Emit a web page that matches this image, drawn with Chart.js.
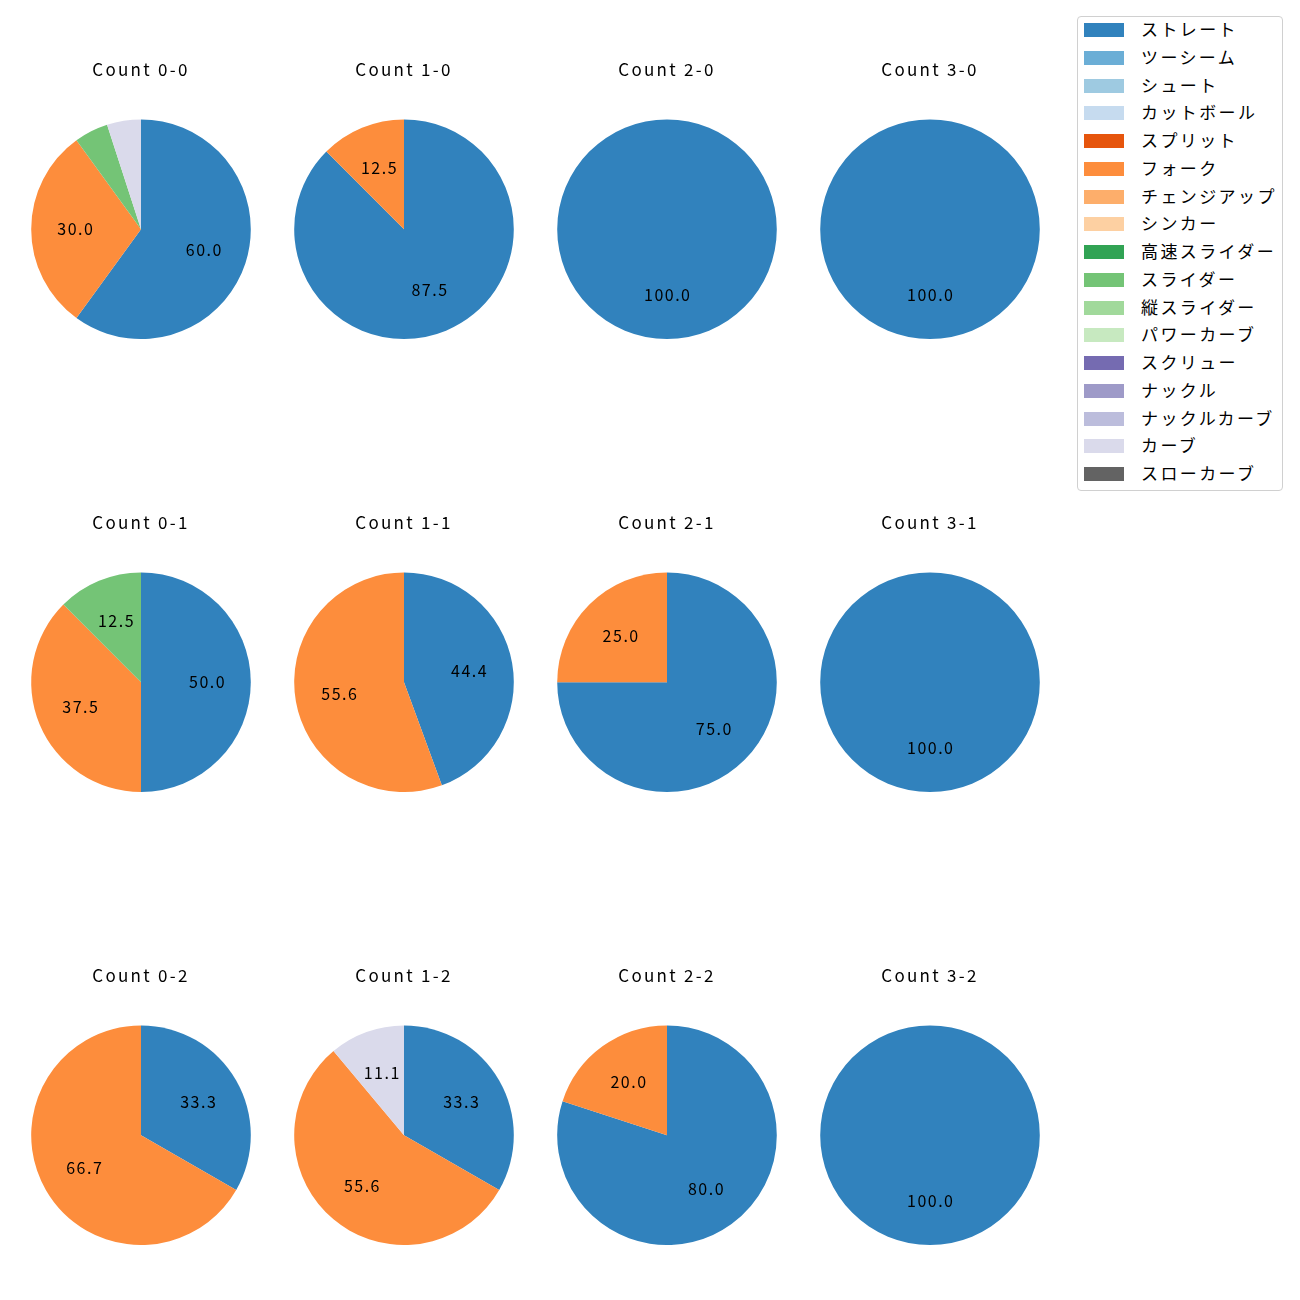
<!DOCTYPE html>
<html>
<head>
<meta charset="utf-8">
<script src="https://cdn.jsdelivr.net/npm/chart.js@4.4.0/dist/chart.umd.min.js"></script>
<style>
  body { margin: 0; background: #fff; font-family: "Noto Sans CJK JP", sans-serif; }
  #wrap { position: relative; width: 1300px; height: 1300px; }
  canvas.pie { position: absolute; }
  #legend {
    position: absolute; left: 1077px; top: 16px; width: 204px; height: 473px;
    border: 1px solid #d0d0d0; border-radius: 4px; background: #fff;
  }
  .item { position: absolute; left: 0; height: 20px; font-size: 17px; line-height: 20px; color: #000; white-space: nowrap; }
  .sw { position: absolute; left: 6px; top: 3px; width: 40px; height: 14px; }
  .txt { position: absolute; left: 63px; top: -1px; letter-spacing: 2.4px; }
</style>
</head>
<body>
<div id="wrap">
  <div id="legend"></div>
</div>
<script>
const pitchTypes = [
  "ストレート", "ツーシーム", "シュート", "カットボール", "スプリット", "フォーク",
  "チェンジアップ", "シンカー", "高速スライダー", "スライダー", "縦スライダー",
  "パワーカーブ", "スクリュー", "ナックル", "ナックルカーブ", "カーブ", "スローカーブ"
];
const pitchColors = [
  "#3182bd", "#6baed6", "#9ecae1", "#c6dbef", "#e6550d", "#fd8d3c",
  "#fdae6b", "#fdd0a2", "#31a354", "#74c476", "#a1d99b",
  "#c7e9c0", "#756bb1", "#9e9ac8", "#bcbddc", "#dadaeb", "#636363"
];

// shares (%) per pitch type, same order as pitchTypes
const count00 = [60.0, 0, 0, 0, 0, 30.0, 0, 0, 0, 5.0, 0, 0, 0, 0, 0, 5.0, 0];
const count10 = [87.5, 0, 0, 0, 0, 12.5, 0, 0, 0, 0, 0, 0, 0, 0, 0, 0, 0];
const count20 = [100.0, 0, 0, 0, 0, 0, 0, 0, 0, 0, 0, 0, 0, 0, 0, 0, 0];
const count30 = [100.0, 0, 0, 0, 0, 0, 0, 0, 0, 0, 0, 0, 0, 0, 0, 0, 0];
const count01 = [50.0, 0, 0, 0, 0, 37.5, 0, 0, 0, 12.5, 0, 0, 0, 0, 0, 0, 0];
const count11 = [44.4, 0, 0, 0, 0, 55.6, 0, 0, 0, 0, 0, 0, 0, 0, 0, 0, 0];
const count21 = [75.0, 0, 0, 0, 0, 25.0, 0, 0, 0, 0, 0, 0, 0, 0, 0, 0, 0];
const count31 = [100.0, 0, 0, 0, 0, 0, 0, 0, 0, 0, 0, 0, 0, 0, 0, 0, 0];
const count02 = [33.3, 0, 0, 0, 0, 66.7, 0, 0, 0, 0, 0, 0, 0, 0, 0, 0, 0];
const count12 = [33.3, 0, 0, 0, 0, 55.6, 0, 0, 0, 0, 0, 0, 0, 0, 0, 11.1, 0];
const count22 = [80.0, 0, 0, 0, 0, 20.0, 0, 0, 0, 0, 0, 0, 0, 0, 0, 0, 0];
const count32 = [100.0, 0, 0, 0, 0, 0, 0, 0, 0, 0, 0, 0, 0, 0, 0, 0, 0];

const countTitles = [
  "Count 0-0", "Count 1-0", "Count 2-0", "Count 3-0",
  "Count 0-1", "Count 1-1", "Count 2-1", "Count 3-1",
  "Count 0-2", "Count 1-2", "Count 2-2", "Count 3-2"
];
const countValues = [
  count00, count10, count20, count30,
  count01, count11, count21, count31,
  count02, count12, count22, count32
];

const colX = [141, 404, 667, 930];
const rowY = [229, 682, 1135];

// wider text spacing for the title, like the original font
const titleSpacing = {
  id: "titleSpacing",
  beforeDraw(chart) {
    chart.ctx.letterSpacing = "2.3px";
  }
};

// draws the percentage at 0.6 of the radius, like matplotlib autopct
const pctLabels = {
  id: "pctLabels",
  afterDatasetsDraw(chart) {
    const ctx = chart.ctx;
    const meta = chart.getDatasetMeta(0);
    const vals = chart.data.datasets[0].data;
    ctx.save();
    ctx.letterSpacing = "1.5px";
    ctx.font = '16px "Noto Sans CJK JP", sans-serif';
    ctx.fillStyle = "#000";
    ctx.textAlign = "center";
    ctx.textBaseline = "middle";
    meta.data.forEach((arc, i) => {
      if (vals[i] < 10) return;
      const p = arc.getProps(["x", "y", "startAngle", "endAngle", "outerRadius"], true);
      const mid = (p.startAngle + p.endAngle) / 2;
      const r = p.outerRadius * 0.6;
      ctx.fillText(vals[i].toFixed(1), p.x + Math.cos(mid) * r + 0.75, p.y + Math.sin(mid) * r);
    });
    ctx.restore();
  }
};

const wrap = document.getElementById("wrap");

countTitles.forEach((title, idx) => {
  const cx = colX[idx % 4];
  const cy = rowY[Math.floor(idx / 4)];
  const canvas = document.createElement("canvas");
  canvas.className = "pie";
  canvas.width = 260;
  canvas.height = 290;
  canvas.style.left = (cx - 130) + "px";
  canvas.style.top = (cy - 180) + "px";
  wrap.appendChild(canvas);

  new Chart(canvas.getContext("2d"), {
    type: "pie",
    data: {
      labels: pitchTypes,
      datasets: [{
        data: countValues[idx],
        backgroundColor: pitchColors,
        borderWidth: 0,
        hoverOffset: 0,
        offset: 0
      }]
    },
    options: {
      responsive: false,
      animation: false,
      layout: { padding: 0 },
      plugins: {
        legend: { display: false },
        tooltip: { enabled: false },
        title: {
          display: true,
          text: title,
          color: "#000",
          font: { size: 17, weight: "normal", family: '"Noto Sans CJK JP", sans-serif', lineHeight: 1.2 },
          padding: { top: 10, bottom: 40 }
        }
      }
    },
    plugins: [titleSpacing, pctLabels]
  });
});

// legend
const legend = document.getElementById("legend");
pitchTypes.forEach((name, i) => {
  const item = document.createElement("div");
  item.className = "item";
  item.style.top = (3 + i * 27.75) + "px";
  const sw = document.createElement("div");
  sw.className = "sw";
  sw.style.background = pitchColors[i];
  const txt = document.createElement("div");
  txt.className = "txt";
  txt.textContent = name;
  item.appendChild(sw);
  item.appendChild(txt);
  legend.appendChild(item);
});
</script>
</body>
</html>
